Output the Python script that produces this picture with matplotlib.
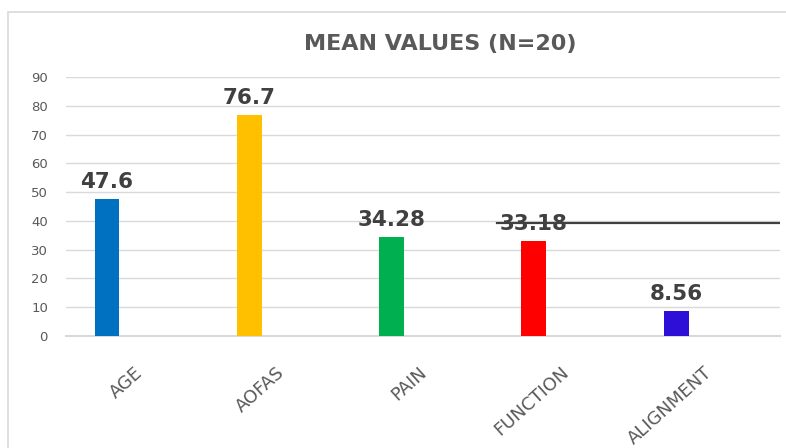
import matplotlib
matplotlib.use("Agg")
import matplotlib.pyplot as plt
from matplotlib.patches import Rectangle
from matplotlib.transforms import ScaledTranslation

# -------------------------
# Data
# -------------------------
categories = ["AGE", "AOFAS", "PAIN", "FUNCTION", "ALIGNMENT"]
values = [47.6, 76.7, 34.28, 33.18, 8.56]
value_labels = ["47.6", "76.7", "34.28", "33.18", "8.56"]
colors = ["#0070C0", "#FFC000", "#00B050", "#FF0000", "#2E0FD8"]

# the extra horizontal reference line drawn on the chart
ref_level = 39.2
ref_start = 2.74
ref_end = 4.72

# -------------------------
# Figure
# -------------------------
fig = plt.figure(figsize=(7.86, 4.48), dpi=100)
ax = fig.add_axes([66 / 786, 0.25, (780 - 66) / 786, 0.578])

# chart-area border (runs off the right and bottom of the picture)
fig.patches.append(Rectangle((8 / 786, -0.2), 1.2, 1 - 12 / 448 + 0.2,
                             transform=fig.transFigure, fill=False,
                             edgecolor="#d9d9d9", linewidth=1.2))

x = list(range(len(categories)))
ax.bar(x, values, width=0.175, color=colors, zorder=3)

for xi, v, lab in zip(x, values, value_labels):
    ax.annotate(lab, (xi, v), textcoords="offset points", xytext=(0, 5),
                ha="center", va="bottom", fontsize=15.5, fontweight="bold",
                color="#404040", annotation_clip=False, zorder=4)

ax.plot([ref_start, ref_end], [ref_level, ref_level], color="#404040",
        linewidth=1.6, zorder=5)

ax.set_xlim(-0.288, 4.73)
ax.set_ylim(0, 90)
ax.set_yticks(range(0, 91, 10))
ax.tick_params(axis="y", length=0, pad=13, labelsize=9.5, labelcolor="#595959")
ax.set_xticks(x)
ax.set_xticklabels([])
ax.tick_params(axis="x", length=0)

# rotated category labels, shifted like the Excel original
offset = ScaledTranslation(0.33, -0.34, fig.dpi_scale_trans)
for xi, cat in zip(x, categories):
    ax.text(xi, 0, cat, transform=ax.get_xaxis_transform() + offset,
            rotation=42, rotation_mode="anchor", ha="right", va="center",
            fontsize=13, color="#595959", clip_on=False)

ax.grid(axis="y", color="#d9d9d9", linewidth=1, zorder=0)
for side in ["top", "right", "left"]:
    ax.spines[side].set_visible(False)
ax.spines["bottom"].set_color("#d9d9d9")
ax.spines["bottom"].set_linewidth(1.5)

fig.text(440 / 786, 1 - 44 / 448, "MEAN VALUES (N=20)", ha="center",
         va="center", fontsize=16, fontweight="bold", color="#595959")

plt.savefig("out.png", dpi=100)
